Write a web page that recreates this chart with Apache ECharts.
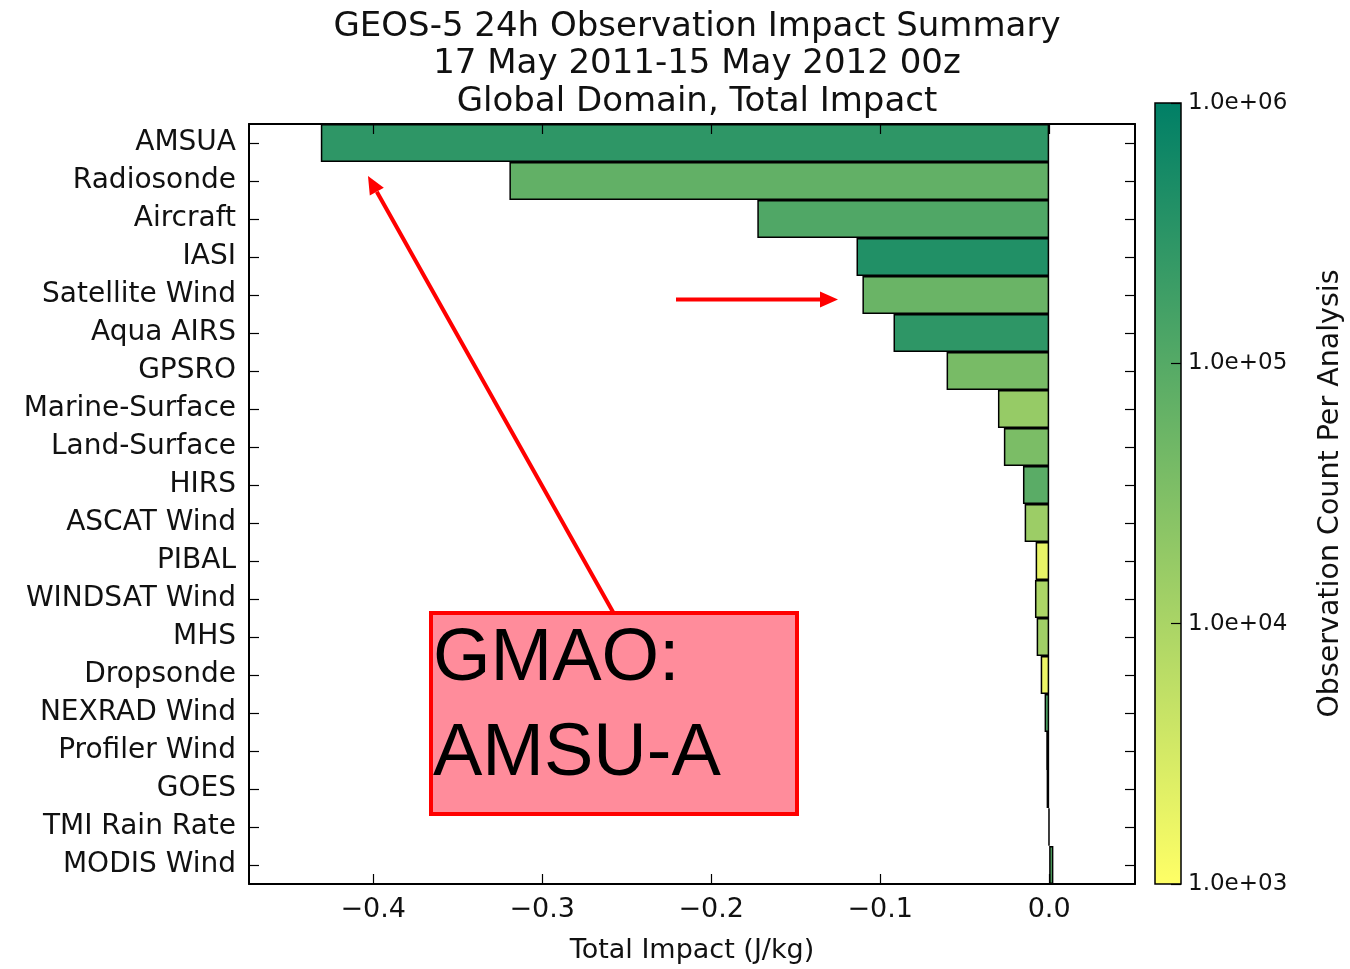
<!DOCTYPE html>
<html>
<head>
<meta charset="utf-8">
<script src="https://cdn.jsdelivr.net/npm/echarts@6/dist/echarts.min.js"></script>
<style>html,body{margin:0;padding:0;background:#fff;}#c{width:1350px;height:969px;}</style>
</head>
<body>
<div id="c"></div>
<script>
var categories = ['AMSUA','Radiosonde','Aircraft','IASI','Satellite Wind','Aqua AIRS','GPSRO','Marine-Surface','Land-Surface','HIRS','ASCAT Wind','PIBAL','WINDSAT Wind','MHS','Dropsonde','NEXRAD Wind','Profiler Wind','GOES','TMI Rain Rate','MODIS Wind'];
var impact = [-0.431,-0.3194,-0.1727,-0.1140,-0.1105,-0.0921,-0.0607,-0.0303,-0.0268,-0.0155,-0.0145,-0.0080,-0.0084,-0.0074,-0.0050,-0.0027,-0.0017,-0.0015,-0.0002,0.0025];
var obsCount = [290000,70000,115000,410000,56000,290000,39000,17000,36000,87000,14500,1900,9400,13000,1600,120000,60000,150000,20000,100000];
var xTicks = [-0.4,-0.3,-0.2,-0.1,0.0];
var titleLines = ['GEOS-5 24h Observation Impact Summary','17 May 2011-15 May 2012 00z','Global Domain, Total Impact'];

var FONT = 'DejaVu Sans';
var barData = categories.map(function(c,i){ return [impact[i], c, Math.log10(obsCount[i])]; });
function fmtX(v){ return (v<0?'\u2212':'') + Math.abs(v).toFixed(1); }

var chart = echarts.init(document.getElementById('c'));
var ax = {show:true,onZero:false,lineStyle:{color:'#000',width:2}};
var tk = {color:'#000',width:1.2};
chart.setOption({
  backgroundColor:'#fff',
  animation:false,
  title:{text:titleLines.join('\n'),left:692,top:3,textAlign:'center',
    textStyle:{fontFamily:FONT,fontSize:34,fontWeight:'normal',color:'#111',lineHeight:37.5}},
  grid:[
    {left:249,right:215,top:124,bottom:85},
    {left:1155,right:169,top:103,bottom:85,show:true,borderColor:'#000',borderWidth:1.5,
     backgroundColor:new echarts.graphic.LinearGradient(0,0,0,1,[{offset:0,color:'#007f66'},{offset:1,color:'#ffff66'}])}
  ],
  visualMap:{show:false,type:'continuous',seriesIndex:0,dimension:2,min:3,max:6,inRange:{color:['#ffff66','#007f66']}},
  xAxis:[
    {gridIndex:0,type:'value',min:-0.4735,max:0.0508,position:'bottom',z:5,axisLine:ax,splitLine:{show:false},
     axisTick:{show:true,inside:true,length:10,lineStyle:tk,customValues:xTicks},
     axisLabel:{customValues:xTicks,formatter:fmtX,fontFamily:FONT,fontSize:27,color:'#111',margin:12},
     name:'Total Impact (J/kg)',nameLocation:'middle',nameGap:53,nameTextStyle:{fontFamily:FONT,fontSize:27,color:'#111'}},
    {gridIndex:0,type:'value',min:-0.4735,max:0.0508,position:'top',z:5,axisLine:ax,splitLine:{show:false},
     axisTick:{show:true,inside:true,length:10,lineStyle:tk,customValues:xTicks},axisLabel:{show:false}},
    {gridIndex:1,type:'category',data:['c'],show:false}
  ],
  yAxis:[
    {gridIndex:0,type:'category',data:categories,inverse:true,position:'left',z:5,axisLine:ax,
     axisTick:{show:true,inside:true,alignWithLabel:true,length:10,lineStyle:tk},
     axisLabel:{fontFamily:FONT,fontSize:28,color:'#111',margin:13}},
    {gridIndex:0,type:'category',data:categories,inverse:true,position:'right',z:5,axisLine:ax,
     axisTick:{show:true,inside:true,alignWithLabel:true,length:10,lineStyle:tk},axisLabel:{show:false}},
    {gridIndex:1,type:'log',logBase:10,min:1000,max:1000000,position:'right',z:5,
     axisLine:{show:false},splitLine:{show:false},
     axisTick:{show:true,inside:true,length:10,lineStyle:tk},
     axisLabel:{fontFamily:FONT,fontSize:23,color:'#111',margin:7,
       formatter:function(v){var e=Math.round(Math.log10(v));return '1.0e+'+(e<10?'0':'')+e;}},
     name:'Observation Count Per Analysis',nameLocation:'middle',nameRotate:90,nameGap:135,
     nameTextStyle:{fontFamily:FONT,fontSize:28.5,color:'#111'}}
  ],
  series:[{
    type:'bar',xAxisIndex:0,yAxisIndex:0,data:barData,encode:{x:0,y:1},
    barCategoryGap:'0%',itemStyle:{borderColor:'#000',borderWidth:1.5}
  }],
  graphic:[
    {type:'line',shape:{x1:613,y1:612,x2:376.8,y2:191.7},style:{stroke:'#ff0000',lineWidth:4},z:100},
    {type:'polygon',shape:{points:[[368,176],[383.8,187.8],[369.8,195.6]]},style:{fill:'#ff0000'},z:100},
    {type:'line',shape:{x1:676,y1:299.5,x2:821,y2:299.5},style:{stroke:'#ff0000',lineWidth:4},z:100},
    {type:'polygon',shape:{points:[[838,299.5],[820,291.5],[820,307.5]]},style:{fill:'#ff0000'},z:100},
    {type:'rect',shape:{x:431,y:613,width:366,height:201},style:{fill:'#ff8c9b',stroke:'#ff0000',lineWidth:4},z:101},
    {type:'text',x:433,y:660,style:{text:'GMAO:',font:'74px "Liberation Sans"',fill:'#000',verticalAlign:'middle'},z:102},
    {type:'text',x:433,y:755,style:{text:'AMSU-A',font:'74px "Liberation Sans"',fill:'#000',verticalAlign:'middle'},z:102}
  ]
});
</script>
</body>
</html>
